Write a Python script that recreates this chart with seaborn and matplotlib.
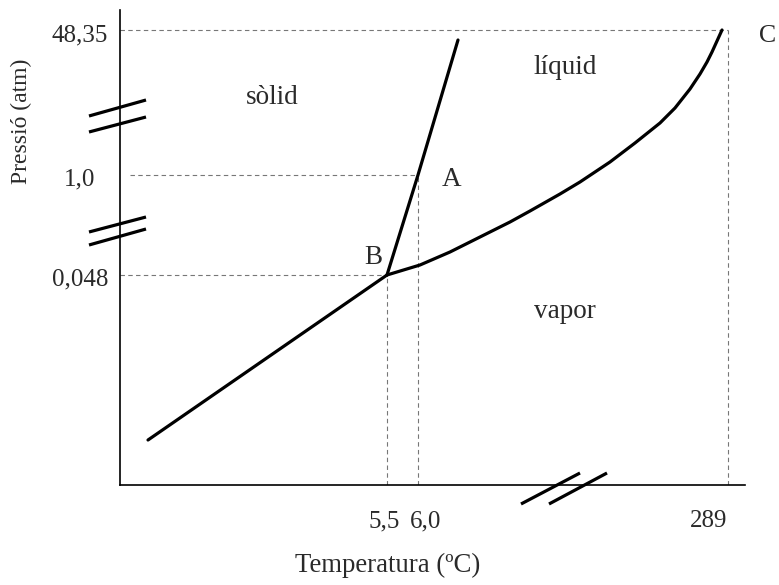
import pandas as pd
import matplotlib
matplotlib.use("Agg")
import matplotlib.pyplot as plt
import matplotlib.transforms as mtrans
import seaborn as sns

# schematic phase diagram (axis units are arbitrary, broken scales)
sublim_t = [28, 267]
sublim_p = [45, 210]
fusion_t = [267, 298, 338]
fusion_p = [210, 310, 445]
vapor_t = [267, 300, 330, 360, 390, 410, 440, 460, 490, 515, 540, 555, 570, 580, 587, 592, 597, 602]
vapor_p = [210, 220, 233, 248, 263, 274, 291, 303, 323, 342, 362, 377, 396, 411, 423, 433, 444, 455]

triple = (267, 210)   # B
point_a = (298, 310)  # A
critical = (608, 455) # C

ytick_pos = [452, 308, 208]
ytick_lab = ["48,35", "1,0", "0,048"]
xtick_pos = [264, 306, 589]
xtick_lab = ["5,5", "6,0", "289"]

regions = ["sòlid", "líquid", "vapor"]
region_t = [152, 445, 445]
region_p = [388, 417, 173]

sns.set_theme(style="white")
plt.rcParams["font.family"] = ["Liberation Serif", "DejaVu Serif"]
TXT = "#2a2a2a"

fig = plt.figure(figsize=(7.79, 5.85), dpi=100)
W, H = 779, 585
ax = fig.add_axes([120 / W, 100 / H, 625 / W, 475 / H])
ax.set_xlim(0, 625)
ax.set_ylim(0, 475)

for s in ["top", "right"]:
    ax.spines[s].set_visible(False)
for s in ["left", "bottom"]:
    ax.spines[s].set_color("black")
    ax.spines[s].set_linewidth(1.2)

# dashed guide lines
dash = dict(color="#777777", lw=0.8, ls=(0, (4, 3)))
ax.plot([0, critical[0]], [critical[1], critical[1]], **dash)
ax.plot([critical[0], critical[0]], [0, critical[1]], **dash)
ax.plot([10, point_a[0]], [point_a[1], point_a[1]], **dash)
ax.plot([point_a[0], point_a[0]], [0, point_a[1]], **dash)
ax.plot([0, triple[0]], [triple[1], triple[1]], **dash)
ax.plot([triple[0], triple[0]], [0, triple[1]], **dash)

# phase boundaries
curves = pd.concat([
    pd.DataFrame({"T": sublim_t, "P": sublim_p, "c": "sub"}),
    pd.DataFrame({"T": fusion_t, "P": fusion_p, "c": "fus"}),
    pd.DataFrame({"T": vapor_t, "P": vapor_p, "c": "vap"}),
])
for name, g in curves.groupby("c"):
    sns.lineplot(data=g, x="T", y="P", sort=False, estimator=None,
                 color="black", lw=2.3, ax=ax)
for l in ax.lines:
    l.set_solid_joinstyle("round")

# axis break marks
brk = dict(color="black", lw=2.3, clip_on=False, solid_capstyle="butt")
ax.plot([-31, 26], [369, 385], **brk)
ax.plot([-31, 26], [353, 368], **brk)
ax.plot([-31, 26], [253, 268], **brk)
ax.plot([-31, 26], [240, 256], **brk)
ax.plot([401, 460], [-19, 12], **brk)
ax.plot([429, 487], [-19, 12], **brk)

ax.set_yticks(ytick_pos)
ax.set_yticklabels(ytick_lab)
ax.set_xticks(xtick_pos)
ax.set_xticklabels(xtick_lab)
ax.tick_params(length=0, labelsize=18, colors=TXT)
ax.tick_params(axis="y", pad=8.5)
ax.tick_params(axis="x", pad=18)
lab = ax.get_yticklabels()[1]
lab.set_transform(lab.get_transform() + mtrans.ScaledTranslation(-13 / 100, 0, fig.dpi_scale_trans))

ax.set_xlabel("Temperatura (ºC)", fontsize=19.3, color=TXT)
ax.xaxis.set_label_coords(268 / 625, -68 / 475)
ax.set_ylabel("Pressió (atm)", fontsize=17, color=TXT)
ax.yaxis.set_label_coords(-88 / 625, 364 / 475)

for r, t, p in zip(regions, region_t, region_p):
    ax.text(t, p, r, fontsize=19.5, ha="center", va="center", color=TXT)
ax.text(332, 305, "A", fontsize=19.5, ha="center", va="center", color=TXT)
ax.text(253, 227, "B", fontsize=19.5, ha="center", va="center", color=TXT)
ax.text(648, 449, "C", fontsize=18.5, ha="center", va="center", color=TXT, clip_on=False)

fig.savefig("out.png", dpi=100, facecolor="white")
